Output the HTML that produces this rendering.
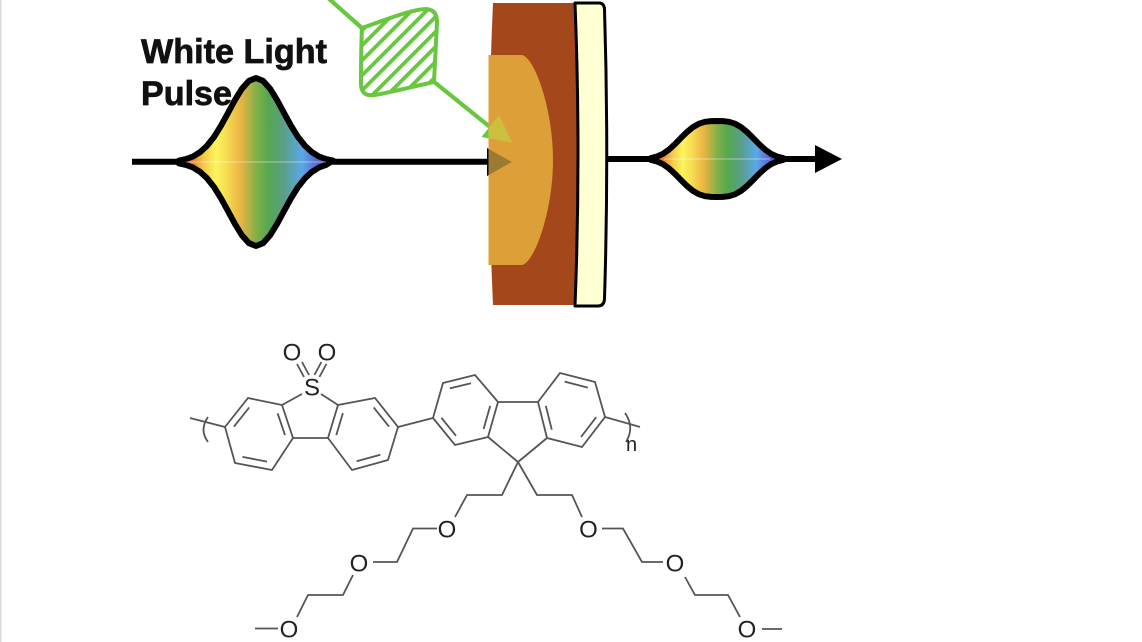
<!DOCTYPE html>
<html>
<head>
<meta charset="utf-8">
<style>
  html,body{margin:0;padding:0;background:#ffffff;}
  svg{display:block;}
</style>
</head>
<body>
<svg width="1142" height="642" viewBox="0 0 1142 642" xmlns="http://www.w3.org/2000/svg">
  <defs>
    <linearGradient id="rainbow" x1="0" y1="0" x2="1" y2="0">
      <stop offset="0" stop-color="#e03a2a"/>
      <stop offset="0.08" stop-color="#ec7a35"/>
      <stop offset="0.16" stop-color="#f6c848"/>
      <stop offset="0.24" stop-color="#fbf55c"/>
      <stop offset="0.32" stop-color="#f5d850"/>
      <stop offset="0.40" stop-color="#eab444"/>
      <stop offset="0.50" stop-color="#84b048"/>
      <stop offset="0.58" stop-color="#55a850"/>
      <stop offset="0.68" stop-color="#5a9e88"/>
      <stop offset="0.80" stop-color="#5aa8e8"/>
      <stop offset="0.92" stop-color="#5a58c8"/>
      <stop offset="1" stop-color="#6030a0"/>
    </linearGradient>
    <pattern id="hatch" patternUnits="userSpaceOnUse" width="10.6" height="10.6" patternTransform="rotate(45)">
      <rect x="0" y="0" width="10.6" height="10.6" fill="#ffffff"/>
      <rect x="0" y="0" width="3.8" height="10.6" fill="#68c73f"/>
    </pattern>
    <clipPath id="sampleClip">
      <rect x="488.5" y="55" width="80" height="210"/>
    </clipPath>
  </defs>

  <rect x="0" y="0" width="1142" height="642" fill="#ffffff"/>
  <rect x="0" y="0" width="1.6" height="642" fill="#dcdcdc"/>

  <!-- Title text -->
  <text x="141" y="63" font-family="Liberation Sans, sans-serif" font-weight="bold" font-size="34" fill="#111" stroke="#111" stroke-width="0.7" textLength="186" lengthAdjust="spacingAndGlyphs">White Light</text>
  <text x="141" y="105" font-family="Liberation Sans, sans-serif" font-weight="bold" font-size="34" fill="#111" stroke="#111" stroke-width="0.7" textLength="91" lengthAdjust="spacingAndGlyphs">Pulse</text>

  <!-- Green pump beam -->
  <line x1="327" y1="-3" x2="363" y2="29" stroke="#68c73f" stroke-width="4.2"/>
  <path d="M362,28 C385,20 410,10 425,9 Q437,9 437,22 C436,45 435,65 434,82 C415,86 393,92 375,95 Q361,97 361,84 C361,65 361,45 362,28 Z"
        fill="url(#hatch)" stroke="#68c73f" stroke-width="4" stroke-linejoin="round"/>
  <line x1="433" y1="81" x2="490" y2="127" stroke="#68c73f" stroke-width="4.2"/>
  <polygon points="481.5,137 499,115 512,142.5" fill="#68c73f"/>

  <!-- Main input line -->
  <line x1="132" y1="161.7" x2="489" y2="161.7" stroke="#000" stroke-width="6"/>

  <!-- Input white light pulse -->
  <polygon fill="url(#rainbow)" stroke="#000" stroke-width="6" stroke-linejoin="round"
    points="179,160.6 186,159.1 193,156.5 200,152.2 207,145.8 214,137 221,125.7 228,112.9 235,99.9 242,88.6 249,80.8 256,78 263,80.8 270,88.6 277,99.9 284,112.9 291,125.7 298,137 305,145.8 312,152.2 319,156.5 326,159.1 333,160.6 326,164.9 319,167.5 312,171.8 305,178.2 298,187 291,198.3 284,211.1 277,224.1 270,235.4 263,243.2 256,246 249,243.2 242,235.4 235,224.1 228,211.1 221,198.3 214,187 207,178.2 200,171.8 193,167.5 186,164.9 179,163.4"/>
  <line x1="186" y1="162" x2="326" y2="162" stroke="#ffffff" stroke-width="1" opacity="0.45"/>

  <!-- Black arrowhead into sample -->
  <polygon points="487,148 512,162 487,176" fill="#000"/>

  <!-- Sample -->
  <path d="M493,3 L576,3 Q581,154 575,305 L493,305 Q486,154 493,3 Z" fill="#a4481c"/>
  <path d="M488.5,55 L522,55 C535,58 553,110 553,160 C553,210 535,262 522,265 L488.5,265 Z" fill="#dda038"/>
  <path d="M575,3 L599,3 Q604,3 604.5,9 Q609,154 604.5,299 Q604,306 598,306 L575,306 Q581,154 575,3 Z"
        fill="#ffffd4" stroke="#000" stroke-width="3" stroke-linejoin="round"/>

  <!-- Arrowheads seen through sample -->
  <g clip-path="url(#sampleClip)">
    <polygon points="481.5,137 499,115 512,142.5" fill="#cbc03e"/>
    <polygon points="487,148 512,162 487,176" fill="#9c7a32"/>
  </g>

  <!-- Output line -->
  <line x1="606" y1="159" x2="818" y2="159" stroke="#000" stroke-width="6"/>
  <polygon points="815,145 842,159 815,173" fill="#000"/>

  <!-- Output pulse -->
  <polygon fill="url(#rainbow)" stroke="#000" stroke-width="6" stroke-linejoin="round"
    points="651,158 657,156.5 663,153.8 669,149.6 675,144.1 681,137.9 687,132 693,127.1 699,123.7 705,121.8 711,121.1 717,121 723,121.1 729,121.8 735,123.7 741,127.1 747,132 753,137.9 759,144.1 765,149.6 771,153.8 777,156.5 783,158 783,160 777,161.5 771,164.2 765,168.4 759,173.9 753,180.1 747,186 741,190.9 735,194.3 729,196.2 723,196.9 717,197 711,196.9 705,196.2 699,194.3 693,190.9 687,186 681,180.1 675,173.9 669,168.4 663,164.2 657,161.5 651,160"/>
  <line x1="664" y1="159" x2="770" y2="159" stroke="#ffffff" stroke-width="1" opacity="0.45"/>

  <!-- Molecule -->
  <g stroke="#555" stroke-width="1.8" fill="none" stroke-linejoin="miter" stroke-linecap="butt">
    <line x1="190" y1="418" x2="225" y2="427"/>
    <path d="M208,417 Q199,430 208,442"/>
    <line x1="605" y1="417" x2="640" y2="427"/>
    <path d="M625,413 Q635,427 626,442"/>

    <polygon points="225,427 248,398 282,405 293,438 272,470 235,463"/>
    <line x1="233.9" y1="426.7" x2="249.2" y2="407.5"/>
    <line x1="277.6" y1="413.3" x2="285" y2="435.1"/>
    <line x1="267" y1="461.6" x2="242.5" y2="456.9"/>

    <polygon points="338,405 375,398 398,427 388,460 352,470 328,438"/>
    <line x1="342.9" y1="413.1" x2="336.3" y2="435"/>
    <line x1="373.7" y1="407.4" x2="389" y2="426.6"/>
    <line x1="380.4" y1="454.7" x2="356.6" y2="461.3"/>

    <line x1="293" y1="438" x2="328" y2="438"/>
    <line x1="282" y1="405" x2="302" y2="394"/>
    <line x1="321" y1="394" x2="338" y2="405"/>
    <line x1="297" y1="364" x2="304" y2="377"/>
    <line x1="302" y1="362" x2="309" y2="375"/>
    <line x1="326.4" y1="364" x2="319.4" y2="377"/>
    <line x1="321.4" y1="362" x2="314.4" y2="375"/>

    <line x1="398" y1="427" x2="433" y2="418"/>

    <polygon points="433,418 443,383 475,375 498,402 488,437 455,445"/>
    <line x1="449.8" y1="388.4" x2="471" y2="383.2"/>
    <line x1="490.2" y1="405.9" x2="483.6" y2="429"/>
    <line x1="456" y1="435.8" x2="441.4" y2="417.8"/>

    <polygon points="538,402 560,373 595,382 605,417 582,447 547,438"/>
    <line x1="564.6" y1="381.6" x2="587.8" y2="387.6"/>
    <line x1="545.8" y1="405.8" x2="551.8" y2="429.7"/>
    <line x1="596.2" y1="417.2" x2="581" y2="437"/>

    <line x1="498" y1="402" x2="538" y2="402"/>
    <line x1="488" y1="437" x2="518" y2="462"/>
    <line x1="547" y1="438" x2="518" y2="462"/>

    <polyline points="518,462 502,495 467,495 455,517"/>
    <polyline points="437,528.5 413,528.5 397,562 373,562"/>
    <polyline points="353,575 343,595 308,595 297,617"/>
    <line x1="278" y1="628.5" x2="255" y2="628.5"/>

    <polyline points="518,462 537,495 572,495 582,517"/>
    <polyline points="602,528.5 623,528.5 642,562 663,562"/>
    <polyline points="685,577 695,595 728,595 740,617"/>
    <line x1="762" y1="629" x2="782" y2="629"/>
  </g>

  <g font-family="Liberation Sans, sans-serif" font-size="24" fill="#222" text-anchor="middle">
    <text x="312" y="395.5">S</text>
    <text x="292" y="360.5">O</text>
    <text x="327" y="360.5">O</text>
    <text x="447" y="537.5">O</text>
    <text x="359" y="571.5">O</text>
    <text x="289" y="637.5">O</text>
    <text x="588.5" y="537.5">O</text>
    <text x="675" y="571.5">O</text>
    <text x="747" y="637.5">O</text>
  </g>
  <text x="626" y="451" font-family="Liberation Sans, sans-serif" font-size="20" fill="#222">n</text>
</svg>
</body>
</html>
